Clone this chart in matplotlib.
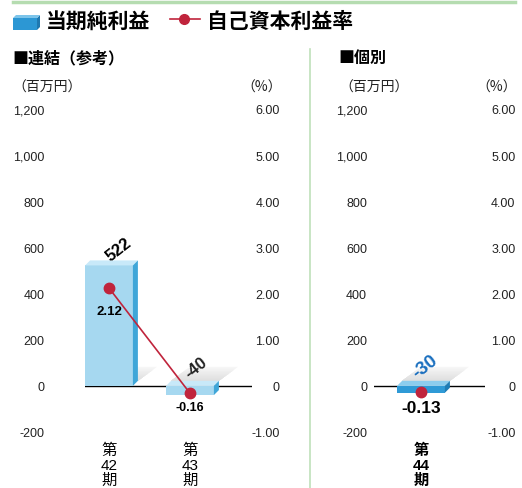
import matplotlib.pyplot as plt
from matplotlib.patches import Polygon, Rectangle
from matplotlib.lines import Line2D

# consolidated (left) and parent-only (right) results
periods_cons = ["第\n42\n期", "第\n43\n期"]
profit_cons = [522, -40]          # 当期純利益 (百万円)
roe_cons = [2.12, -0.16]          # 自己資本利益率 (%)

periods_solo = ["第\n44\n期"]
profit_solo = [-30]
roe_solo = [-0.13]

yen_ticks = [-200, 0, 200, 400, 600, 800, 1000, 1200]
pct_ticks = [-1, 0, 1, 2, 3, 4, 5, 6]

W, H = 522, 489
JP = ["Noto Sans CJK JP", "DejaVu Sans"]
NUM = ["Liberation Sans", "Noto Sans CJK JP"]
RED = "#c0243c"

fig = plt.figure(figsize=(W / 100, H / 100), dpi=100)


def fx(x):
    return x / W


def fy(y):
    return 1 - y / H


# bar depth in data units (x: 81 px per bar slot, y: 46 px per 200)
DX, DY = 5 / 81, 5 * 200 / 46
SX, SY = 19 / 81, 14 * 200 / 46
STEPS = 10


def draw_bars(ax, values, front, top, side):
    xs = range(len(values))
    bars = ax.bar(xs, values, width=0.59, color=front, zorder=3)
    for b, v in zip(bars, values):
        x0, x1 = b.get_x(), b.get_x() + b.get_width()
        hi = max(v, 0)
        lo = min(v, 0)
        # soft floor shadow behind the bar, fading to the back
        for k in range(STEPS):
            f = 1 - k / STEPS
            g = 0.965 - 0.09 * k / (STEPS - 1)
            ax.add_patch(Polygon([(x0 + DX, DY), (x1 + DX, DY), (x1 + DX + SX * f, DY + SY * f),
                                  (x0 + DX + SX * f, DY + SY * f)], closed=True,
                                 facecolor=(g, g, g), edgecolor="none", zorder=1))
        ax.add_patch(Polygon([(x0, hi), (x0 + DX, hi + DY), (x1 + DX, hi + DY), (x1, hi)],
                             closed=True, facecolor=top, edgecolor="none", zorder=3))
        ax.add_patch(Polygon([(x1, lo), (x1 + DX, lo + DY), (x1 + DX, hi + DY), (x1, hi)],
                             closed=True, facecolor=side, edgecolor="none", zorder=3))
    return bars


def setup_panel(left, right, xlo, xhi, lpad, rpad):
    ax = fig.add_axes([fx(left), fy(433), fx(right - left), (433 - 110) / H])
    ax.set_xlim(xlo, xhi)
    ax.set_ylim(-200, 1200)
    ax.set_yticks(yen_ticks)
    ax.set_yticklabels([f"{t:,}" for t in yen_ticks], fontsize=9, family=NUM, color="#222")
    ax.tick_params(axis="y", length=0, pad=lpad)
    ax.set_xticks([])
    for s in ax.spines.values():
        s.set_visible(False)
    ax.axhline(0, color="black", lw=1, zorder=2)
    ax2 = ax.twinx()
    ax2.set_ylim(-1, 6)
    ax2.set_yticks(pct_ticks)
    ax2.set_yticklabels([f"{t:.2f}" if t != 0 else "0" for t in pct_ticks],
                        fontsize=9, family=NUM, color="#222", ha="right")
    ax2.tick_params(axis="y", length=0, pad=rpad)
    for s in ax2.spines.values():
        s.set_visible(False)
    ax.set_zorder(1)
    ax2.set_zorder(2)
    return ax, ax2


# left panel: 連結
ax1, ax1r = setup_panel(85, 252, -24 / 81, 143 / 81, 29, 20)
draw_bars(ax1, profit_cons, "#a6d8f0", "#c8e9f9", "#3fa6d8")
ax1r.plot(range(len(roe_cons)), roe_cons, color=RED, lw=1.2, marker="o", ms=7.5, zorder=5)
ax1.text(0.12, profit_cons[0] + 70, f"{profit_cons[0]}", rotation=38, ha="center", va="center",
         fontsize=12, fontweight="bold", family=NUM)
ax1.text(1.08, profit_cons[1] + 120, f"{profit_cons[1]}", rotation=38, ha="center", va="center",
         fontsize=12, fontweight="bold", family=NUM, color="#222")
ax1r.text(0, roe_cons[0] - 0.49, f"{roe_cons[0]:.2f}", ha="center", va="center",
          fontsize=9.5, fontweight="bold", family=NUM)
ax1r.text(1, roe_cons[1] - 0.3, f"{roe_cons[1]:.2f}", ha="center", va="center",
          fontsize=9, fontweight="bold", family=NUM)
for i, lab in enumerate(periods_cons):
    ax1.text(i, -245, lab, ha="center", va="top", fontsize=11, family=NUM + ["Noto Sans CJK JP"],
             linespacing=1.1, clip_on=False)

# right panel: 個別
ax2, ax2r = setup_panel(374, 485, -47 / 81, 64 / 81, 5, 22)
draw_bars(ax2, profit_solo, "#2f9ad6", "#8ccdee", "#1f7db5")
ax2r.plot(range(len(roe_solo)), roe_solo, color=RED, lw=1.2, marker="o", ms=7.5, zorder=5)
ax2.text(0.05, profit_solo[0] + 115, f"{profit_solo[0]}", rotation=38, ha="center", va="center",
         fontsize=13.5, fontweight="bold", family=NUM, color="#1a6fbf")
ax2r.text(0, roe_solo[0] - 0.34, f"{roe_solo[0]:.2f}", ha="center", va="center",
          fontsize=12.5, fontweight="bold", family=NUM)
for i, lab in enumerate(periods_solo):
    ax2.text(i, -245, lab, ha="center", va="top", fontsize=11, fontweight="bold",
             family=NUM + ["Noto Sans CJK JP"], linespacing=1.1, clip_on=False)

# axis unit headers
for x, t in [(12, "（百万円）"), (339, "（百万円）")]:
    fig.text(fx(x), fy(88), t, ha="left", va="center", fontsize=10, family=JP, color="#222")
for x, t in [(282, "（%）"), (517, "（%）")]:
    fig.text(fx(x), fy(88), t, ha="right", va="center", fontsize=10, family=JP, color="#222")

# section titles
fig.text(fx(12), fy(58), "■連結（参考）", ha="left", va="center", fontsize=11.5,
         fontweight="bold", family=JP)
fig.text(fx(338), fy(58), "■個別", ha="left", va="center", fontsize=11.5,
         fontweight="bold", family=JP)

# decorative rules
fig.add_artist(Line2D([fx(13), fx(515)], [fy(3), fy(3)], color="#b5dcb0", lw=2.5))
fig.add_artist(Line2D([fx(310), fx(310)], [fy(50), fy(489)], color="#bfe0ba", lw=1.2))

# legend
fig.add_artist(Rectangle((fx(13), fy(31)), fx(24), 12 / H, facecolor="#2c97d4", edgecolor="none"))
fig.add_artist(Polygon([(fx(37), fy(31)), (fx(40), fy(28)), (fx(40), fy(16)), (fx(37), fy(19))],
                       closed=True, facecolor="#1f78b0", edgecolor="none"))
fig.add_artist(Polygon([(fx(13), fy(19)), (fx(16), fy(16)), (fx(40), fy(16)), (fx(37), fy(19))],
                       closed=True, facecolor="#7cc4ea", edgecolor="none"))
fig.text(fx(46), fy(21), "当期純利益", ha="left", va="center", fontsize=15, fontweight="bold", family=JP)
fig.add_artist(Line2D([fx(170), fx(200)], [fy(20), fy(20)], color=RED, lw=1.2))
fig.add_artist(Line2D([fx(184)], [fy(20)], color=RED, marker="o", ms=7))
fig.text(fx(207), fy(21), "自己資本利益率", ha="left", va="center", fontsize=15, fontweight="bold", family=JP)

fig.savefig("out.png", dpi=100)
